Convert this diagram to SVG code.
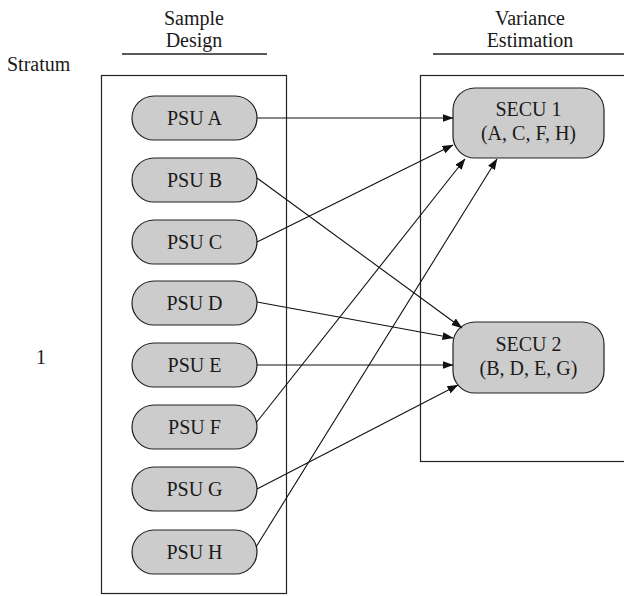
<svg xmlns="http://www.w3.org/2000/svg" width="624" height="596" viewBox="0 0 624 596">
<style>
text{font-family:"Liberation Serif","DejaVu Serif",serif;font-size:20px;fill:#1a1a1a}
.c{text-anchor:middle}
.box{fill:none;stroke:#222;stroke-width:1.2}
.pill{fill:#cccccc;stroke:#222;stroke-width:1.2}
.hl{stroke:#222;stroke-width:1.5}
.cn line{stroke:#111;stroke-width:1.1;marker-end:url(#ah)}
</style>
<defs>
<marker id="ah" markerWidth="11" markerHeight="8" refX="10.5" refY="4" orient="auto" markerUnits="userSpaceOnUse">
<path d="M0,0 L11,4 L0,8 Z" fill="#111"/>
</marker>
</defs>
<rect width="624" height="596" fill="#fff"/>
<g id="headers">
<text x="7" y="71">Stratum</text>
<text class="c" x="194" y="25">Sample</text>
<text class="c" x="194" y="47">Design</text>
<line class="hl" x1="122" y1="54" x2="267" y2="54"/>
<text class="c" x="530" y="25">Variance</text>
<text class="c" x="530" y="47">Estimation</text>
<line class="hl" x1="433" y1="54" x2="624" y2="54"/>
<text x="36" y="364">1</text>
</g>
<g id="sample-box"><rect class="box" x="101.5" y="75.5" width="185" height="518"/></g>
<g id="variance-box"><rect class="box" x="420.5" y="75.5" width="220" height="386"/></g>
<g id="psu-a"><rect class="pill" x="132" y="96" width="125" height="44" rx="22"/><text class="c" x="194.5" y="125">PSU A</text></g>
<g id="psu-b"><rect class="pill" x="132" y="158" width="125" height="44" rx="22"/><text class="c" x="194.5" y="187">PSU B</text></g>
<g id="psu-c"><rect class="pill" x="132" y="220" width="125" height="44" rx="22"/><text class="c" x="194.5" y="249">PSU C</text></g>
<g id="psu-d"><rect class="pill" x="132" y="281" width="125" height="44" rx="22"/><text class="c" x="194.5" y="310">PSU D</text></g>
<g id="psu-e"><rect class="pill" x="132" y="343" width="125" height="44" rx="22"/><text class="c" x="194.5" y="372">PSU E</text></g>
<g id="psu-f"><rect class="pill" x="132" y="405" width="125" height="44" rx="22"/><text class="c" x="194.5" y="434">PSU F</text></g>
<g id="psu-g"><rect class="pill" x="132" y="467" width="125" height="44" rx="22"/><text class="c" x="194.5" y="496">PSU G</text></g>
<g id="psu-h"><rect class="pill" x="132" y="530" width="125" height="44" rx="22"/><text class="c" x="194.5" y="559">PSU H</text></g>
<g id="secu-1"><rect class="pill" x="453" y="88" width="151" height="70" rx="22"/><text class="c" x="528.5" y="116">SECU 1</text><text class="c" x="528.5" y="140">(A, C, F, H)</text></g>
<g id="secu-2"><rect class="pill" x="453" y="322" width="151" height="71" rx="22"/><text class="c" x="528.5" y="351">SECU 2</text><text class="c" x="528.5" y="375">(B, D, E, G)</text></g>
<g id="connectors" class="cn">
<line x1="257" y1="118" x2="453" y2="118"/>
<line x1="257" y1="178" x2="462" y2="328"/>
<line x1="257" y1="242" x2="453" y2="145"/>
<line x1="257" y1="302" x2="453" y2="338"/>
<line x1="257" y1="365" x2="453" y2="365"/>
<line x1="256" y1="423" x2="465" y2="159"/>
<line x1="257" y1="489" x2="458" y2="385"/>
<line x1="256" y1="547" x2="497" y2="159"/>
</g>
</svg>
